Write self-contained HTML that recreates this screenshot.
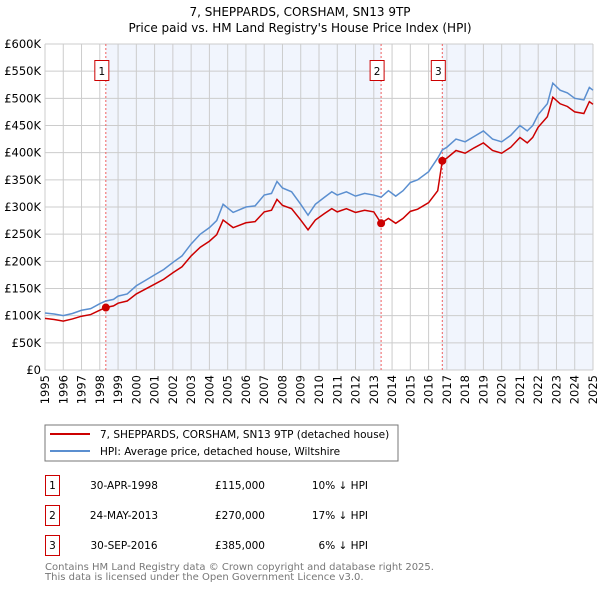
<!DOCTYPE html>
<html><head><meta charset="utf-8"><style>
body{margin:0;background:#fff;width:600px;height:590px;overflow:hidden;font-family:"DejaVu Sans","Liberation Sans",sans-serif}
svg text{font-family:"DejaVu Sans","Liberation Sans",sans-serif}
</style></head><body>
<svg id="c" width="600" height="590" xmlns="http://www.w3.org/2000/svg">
<text x="300" y="16" text-anchor="middle" font-size="12">7, SHEPPARDS, CORSHAM, SN13 9TP</text>
<text x="300" y="32" text-anchor="middle" font-size="12">Price paid vs. HM Land Registry's House Price Index (HPI)</text>
<g id="plot"></g>
<rect x="45" y="425" width="353" height="36" fill="#fff" stroke="#777"/>
<line x1="50" y1="434" x2="90" y2="434" stroke="#cc0000" stroke-width="2"/>
<text x="100" y="438" font-size="10.5">7, SHEPPARDS, CORSHAM, SN13 9TP (detached house)</text>
<line x1="50" y1="451" x2="90" y2="451" stroke="#5b8fd0" stroke-width="2"/>
<text x="100" y="455" font-size="10.5">HPI: Average price, detached house, Wiltshire</text>
<g font-size="10.5">
<rect x="45.5" y="475.5" width="14" height="20" fill="none" stroke="#cc0000"/><text x="52.5" y="489" text-anchor="middle">1</text>
<text x="124" y="489" text-anchor="middle">30-APR-1998</text><text x="265" y="489" text-anchor="end">£115,000</text><text x="368" y="489" text-anchor="end">10% ↓ HPI</text>
<rect x="45.5" y="505.5" width="14" height="20" fill="none" stroke="#cc0000"/><text x="52.5" y="519" text-anchor="middle">2</text>
<text x="124" y="519" text-anchor="middle">24-MAY-2013</text><text x="265" y="519" text-anchor="end">£270,000</text><text x="368" y="519" text-anchor="end">17% ↓ HPI</text>
<rect x="45.5" y="535.5" width="14" height="20" fill="none" stroke="#cc0000"/><text x="52.5" y="549" text-anchor="middle">3</text>
<text x="124" y="549" text-anchor="middle">30-SEP-2016</text><text x="265" y="549" text-anchor="end">£385,000</text><text x="368" y="549" text-anchor="end">6% ↓ HPI</text>
</g>
<text x="45" y="570" font-size="10" fill="#777">Contains HM Land Registry data © Crown copyright and database right 2025.</text>
<text x="45" y="580" font-size="10" fill="#777">This data is licensed under the Open Government Licence v3.0.</text>
</svg>
<script>
const years=[1995,1995.5,1996,1996.5,1997,1997.5,1998,1998.33,1998.75,1999,1999.5,2000,2000.5,2001,2001.5,2002,2002.5,2003,2003.5,2004,2004.4,2004.75,2005.3,2006,2006.5,2007,2007.4,2007.7,2008,2008.5,2009,2009.4,2009.8,2010.3,2010.7,2011,2011.5,2012,2012.5,2013,2013.4,2013.8,2014.2,2014.6,2015,2015.4,2016,2016.5,2016.75,2017,2017.5,2018,2018.5,2019,2019.5,2020,2020.5,2021,2021.4,2021.7,2022,2022.5,2022.8,2023.2,2023.6,2024,2024.5,2024.8,2025];
const hpiValues=[105,103,100,104,110,113,122,127,130,136,140,155,165,175,185,198,210,232,250,262,275,305,290,300,302,322,325,347,335,328,305,285,305,318,328,322,328,320,325,322,318,330,320,330,345,350,365,390,405,410,425,420,430,440,425,420,432,450,440,450,470,490,528,515,510,500,497,520,515];
const propertyValues=[95,93,90,94,99,102,110,115,118,123,127,140,149,158,167,179,190,210,226,237,249,276,262,271,273,291,294,314,303,297,276,258,276,288,297,291,297,290,294,291,270,279,270,279,292,296,308,330,385,390,404,399,409,418,404,399,410,428,418,428,447,466,502,490,485,475,472,494,489];
const saleYears=[1998.33,2013.4,2016.75];
const saleValues=[115,270,385];
const saleLabels=["1","2","3"];
const yTicks=[0,50,100,150,200,250,300,350,400,450,500,550,600];
const yTickLabels=["£0","£50K","£100K","£150K","£200K","£250K","£300K","£350K","£400K","£450K","£500K","£550K","£600K"];
const xTicks=[1995,1996,1997,1998,1999,2000,2001,2002,2003,2004,2005,2006,2007,2008,2009,2010,2011,2012,2013,2014,2015,2016,2017,2018,2019,2020,2021,2022,2023,2024,2025];

const X0=45,X1=593,Y0=370,Y1=44;
const sx=t=>X0+(t-1995)/30*(X1-X0);
const sy=v=>Y0-v/600*(Y0-Y1);
const NS="http://www.w3.org/2000/svg";
const g=document.getElementById('plot');
function mk(tag,attrs){const e=document.createElementNS(NS,tag);for(const k in attrs)e.setAttribute(k,attrs[k]);g.appendChild(e);return e;}

let bg=mk('rect',{x:X0,y:Y1,width:X1-X0,height:Y0-Y1,fill:'#fff'});


let s1=mk('rect',{x:sx(saleYears[0]),y:Y1,width:sx(saleYears[1])-sx(saleYears[0]),height:Y0-Y1,fill:'#eef3fc',opacity:0.8});


let s2=mk('rect',{x:sx(saleYears[2]),y:Y1,width:X1-sx(saleYears[2]),height:Y0-Y1,fill:'#eef3fc',opacity:0.8});



yTicks.forEach((v,i)=>{
  let l=mk('line',{x1:X0,x2:X1,y1:sy(v),y2:sy(v),stroke:'#ccc','stroke-width':1});
  
  
  let t=mk('text',{x:X0-4,y:sy(v)+4,'text-anchor':'end','font-size':11.5});
  t.textContent=yTickLabels[i];
  
  
});
xTicks.forEach(y=>{
  let l=mk('line',{x1:sx(y),x2:sx(y),y1:Y1,y2:Y0,stroke:'#ccc','stroke-width':1});
  
  
  let t=mk('text',{x:0,y:0,'text-anchor':'end','font-size':11.5,transform:`translate(${sx(y)+4},${Y0+5}) rotate(-90)`});
  t.textContent=y;
  
  
});
saleYears.forEach((y,i)=>{
  let l=mk('line',{x1:sx(y),x2:sx(y),y1:Y1,y2:Y0,stroke:'#f06060','stroke-width':1,'stroke-dasharray':'2,2'});
  
  
  let r=mk('rect',{x:sx(y)-11,y:60.5,width:14,height:20,fill:'#fff',stroke:'#cc0000'});
  
  
  let t=mk('text',{x:sx(y)-4,y:75,'text-anchor':'middle','font-size':10.5});
  t.textContent=saleLabels[i];
  
  
});
let hp=mk('polyline',{points:years.map((y,i)=>sx(y)+','+sy(hpiValues[i])).join(' '),fill:'none',stroke:'#5b8fd0','stroke-width':1.5});


let pp=mk('polyline',{points:years.map((y,i)=>sx(y)+','+sy(propertyValues[i])).join(' '),fill:'none',stroke:'#cc0000','stroke-width':1.5});


saleYears.forEach((y,i)=>{
  let c=mk('circle',{cx:sx(y),cy:sy(saleValues[i]),r:4,fill:'#cc0000'});
  
  
});
</script>
</body></html>
